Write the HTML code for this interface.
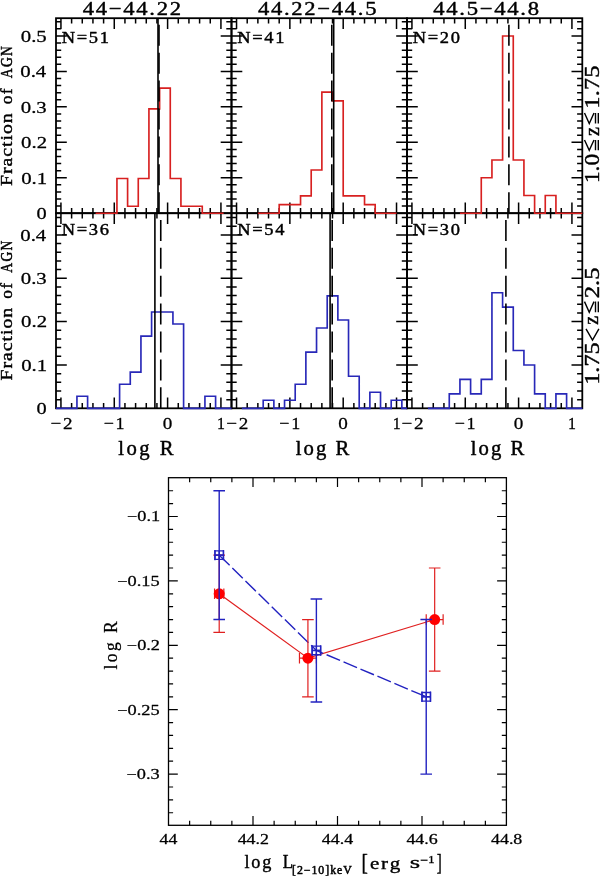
<!DOCTYPE html>
<html><head><meta charset="utf-8"><style>
html,body{margin:0;padding:0;background:#fff;}
svg{display:block;}
text{font-kerning:none;font-size:100px;-webkit-font-smoothing:antialiased;}
svg{will-change:transform;}
</style></head><body>
<svg width="600" height="877" viewBox="0 0 600 877">
<rect width="600" height="877" fill="#fff"/>
<g fill="none" stroke-linecap="butt">
<rect x="56.00" y="18.20" width="175.50" height="195.00" stroke="#000" stroke-width="1.80" fill="none"/>
<rect x="231.50" y="18.20" width="175.50" height="195.00" stroke="#000" stroke-width="1.80" fill="none"/>
<rect x="407.00" y="18.20" width="175.30" height="195.00" stroke="#000" stroke-width="1.80" fill="none"/>
<rect x="56.00" y="213.20" width="175.50" height="195.10" stroke="#000" stroke-width="1.80" fill="none"/>
<rect x="231.50" y="213.20" width="175.50" height="195.10" stroke="#000" stroke-width="1.80" fill="none"/>
<rect x="407.00" y="213.20" width="175.30" height="195.10" stroke="#000" stroke-width="1.80" fill="none"/>
<path d="M60.94 213.20V202.40M60.94 18.20V29.00M71.61 213.20V208.00M71.61 18.20V23.40M82.27 213.20V208.00M82.27 18.20V23.40M92.94 213.20V208.00M92.94 18.20V23.40M103.60 213.20V208.00M103.60 18.20V23.40M114.27 213.20V202.40M114.27 18.20V29.00M124.94 213.20V208.00M124.94 18.20V23.40M135.60 213.20V208.00M135.60 18.20V23.40M146.27 213.20V208.00M146.27 18.20V23.40M156.93 213.20V208.00M156.93 18.20V23.40M167.60 213.20V202.40M167.60 18.20V29.00M178.27 213.20V208.00M178.27 18.20V23.40M188.93 213.20V208.00M188.93 18.20V23.40M199.60 213.20V208.00M199.60 18.20V23.40M210.26 213.20V208.00M210.26 18.20V23.40M220.93 213.20V202.40M220.93 18.20V29.00M56.00 206.11H61.20M231.50 206.11H226.30M56.00 199.02H61.20M231.50 199.02H226.30M56.00 191.93H61.20M231.50 191.93H226.30M56.00 184.84H61.20M231.50 184.84H226.30M56.00 177.75H66.80M231.50 177.75H220.70M56.00 170.66H61.20M231.50 170.66H226.30M56.00 163.57H61.20M231.50 163.57H226.30M56.00 156.48H61.20M231.50 156.48H226.30M56.00 149.39H61.20M231.50 149.39H226.30M56.00 142.30H66.80M231.50 142.30H220.70M56.00 135.21H61.20M231.50 135.21H226.30M56.00 128.12H61.20M231.50 128.12H226.30M56.00 121.03H61.20M231.50 121.03H226.30M56.00 113.94H61.20M231.50 113.94H226.30M56.00 106.85H66.80M231.50 106.85H220.70M56.00 99.76H61.20M231.50 99.76H226.30M56.00 92.67H61.20M231.50 92.67H226.30M56.00 85.58H61.20M231.50 85.58H226.30M56.00 78.49H61.20M231.50 78.49H226.30M56.00 71.40H66.80M231.50 71.40H220.70M56.00 64.31H61.20M231.50 64.31H226.30M56.00 57.22H61.20M231.50 57.22H226.30M56.00 50.13H61.20M231.50 50.13H226.30M56.00 43.04H61.20M231.50 43.04H226.30M56.00 35.95H66.80M231.50 35.95H220.70M56.00 28.86H61.20M231.50 28.86H226.30M56.00 21.77H61.20M231.50 21.77H226.30" stroke="#000" stroke-width="1.50" fill="none"/>
<path d="M236.54 213.20V202.40M236.54 18.20V29.00M247.21 213.20V208.00M247.21 18.20V23.40M257.87 213.20V208.00M257.87 18.20V23.40M268.54 213.20V208.00M268.54 18.20V23.40M279.20 213.20V208.00M279.20 18.20V23.40M289.87 213.20V202.40M289.87 18.20V29.00M300.54 213.20V208.00M300.54 18.20V23.40M311.20 213.20V208.00M311.20 18.20V23.40M321.87 213.20V208.00M321.87 18.20V23.40M332.53 213.20V208.00M332.53 18.20V23.40M343.20 213.20V202.40M343.20 18.20V29.00M353.87 213.20V208.00M353.87 18.20V23.40M364.53 213.20V208.00M364.53 18.20V23.40M375.20 213.20V208.00M375.20 18.20V23.40M385.86 213.20V208.00M385.86 18.20V23.40M396.53 213.20V202.40M396.53 18.20V29.00M231.50 206.11H236.70M407.00 206.11H401.80M231.50 199.02H236.70M407.00 199.02H401.80M231.50 191.93H236.70M407.00 191.93H401.80M231.50 184.84H236.70M407.00 184.84H401.80M231.50 177.75H242.30M407.00 177.75H396.20M231.50 170.66H236.70M407.00 170.66H401.80M231.50 163.57H236.70M407.00 163.57H401.80M231.50 156.48H236.70M407.00 156.48H401.80M231.50 149.39H236.70M407.00 149.39H401.80M231.50 142.30H242.30M407.00 142.30H396.20M231.50 135.21H236.70M407.00 135.21H401.80M231.50 128.12H236.70M407.00 128.12H401.80M231.50 121.03H236.70M407.00 121.03H401.80M231.50 113.94H236.70M407.00 113.94H401.80M231.50 106.85H242.30M407.00 106.85H396.20M231.50 99.76H236.70M407.00 99.76H401.80M231.50 92.67H236.70M407.00 92.67H401.80M231.50 85.58H236.70M407.00 85.58H401.80M231.50 78.49H236.70M407.00 78.49H401.80M231.50 71.40H242.30M407.00 71.40H396.20M231.50 64.31H236.70M407.00 64.31H401.80M231.50 57.22H236.70M407.00 57.22H401.80M231.50 50.13H236.70M407.00 50.13H401.80M231.50 43.04H236.70M407.00 43.04H401.80M231.50 35.95H242.30M407.00 35.95H396.20M231.50 28.86H236.70M407.00 28.86H401.80M231.50 21.77H236.70M407.00 21.77H401.80" stroke="#000" stroke-width="1.50" fill="none"/>
<path d="M411.94 213.20V202.40M411.94 18.20V29.00M422.61 213.20V208.00M422.61 18.20V23.40M433.27 213.20V208.00M433.27 18.20V23.40M443.94 213.20V208.00M443.94 18.20V23.40M454.60 213.20V208.00M454.60 18.20V23.40M465.27 213.20V202.40M465.27 18.20V29.00M475.94 213.20V208.00M475.94 18.20V23.40M486.60 213.20V208.00M486.60 18.20V23.40M497.27 213.20V208.00M497.27 18.20V23.40M507.93 213.20V208.00M507.93 18.20V23.40M518.60 213.20V202.40M518.60 18.20V29.00M529.27 213.20V208.00M529.27 18.20V23.40M539.93 213.20V208.00M539.93 18.20V23.40M550.60 213.20V208.00M550.60 18.20V23.40M561.26 213.20V208.00M561.26 18.20V23.40M571.93 213.20V202.40M571.93 18.20V29.00M407.00 206.11H412.20M582.30 206.11H577.10M407.00 199.02H412.20M582.30 199.02H577.10M407.00 191.93H412.20M582.30 191.93H577.10M407.00 184.84H412.20M582.30 184.84H577.10M407.00 177.75H417.80M582.30 177.75H571.50M407.00 170.66H412.20M582.30 170.66H577.10M407.00 163.57H412.20M582.30 163.57H577.10M407.00 156.48H412.20M582.30 156.48H577.10M407.00 149.39H412.20M582.30 149.39H577.10M407.00 142.30H417.80M582.30 142.30H571.50M407.00 135.21H412.20M582.30 135.21H577.10M407.00 128.12H412.20M582.30 128.12H577.10M407.00 121.03H412.20M582.30 121.03H577.10M407.00 113.94H412.20M582.30 113.94H577.10M407.00 106.85H417.80M582.30 106.85H571.50M407.00 99.76H412.20M582.30 99.76H577.10M407.00 92.67H412.20M582.30 92.67H577.10M407.00 85.58H412.20M582.30 85.58H577.10M407.00 78.49H412.20M582.30 78.49H577.10M407.00 71.40H417.80M582.30 71.40H571.50M407.00 64.31H412.20M582.30 64.31H577.10M407.00 57.22H412.20M582.30 57.22H577.10M407.00 50.13H412.20M582.30 50.13H577.10M407.00 43.04H412.20M582.30 43.04H577.10M407.00 35.95H417.80M582.30 35.95H571.50M407.00 28.86H412.20M582.30 28.86H577.10M407.00 21.77H412.20M582.30 21.77H577.10" stroke="#000" stroke-width="1.50" fill="none"/>
<path d="M60.94 408.30V397.50M60.94 213.20V224.00M71.61 408.30V403.10M71.61 213.20V218.40M82.27 408.30V403.10M82.27 213.20V218.40M92.94 408.30V403.10M92.94 213.20V218.40M103.60 408.30V403.10M103.60 213.20V218.40M114.27 408.30V397.50M114.27 213.20V224.00M124.94 408.30V403.10M124.94 213.20V218.40M135.60 408.30V403.10M135.60 213.20V218.40M146.27 408.30V403.10M146.27 213.20V218.40M156.93 408.30V403.10M156.93 213.20V218.40M167.60 408.30V397.50M167.60 213.20V224.00M178.27 408.30V403.10M178.27 213.20V218.40M188.93 408.30V403.10M188.93 213.20V218.40M199.60 408.30V403.10M199.60 213.20V218.40M210.26 408.30V403.10M210.26 213.20V218.40M220.93 408.30V397.50M220.93 213.20V224.00M56.00 399.63H61.20M231.50 399.63H226.30M56.00 390.96H61.20M231.50 390.96H226.30M56.00 382.30H61.20M231.50 382.30H226.30M56.00 373.63H61.20M231.50 373.63H226.30M56.00 364.96H66.80M231.50 364.96H220.70M56.00 356.29H61.20M231.50 356.29H226.30M56.00 347.62H61.20M231.50 347.62H226.30M56.00 338.96H61.20M231.50 338.96H226.30M56.00 330.29H61.20M231.50 330.29H226.30M56.00 321.62H66.80M231.50 321.62H220.70M56.00 312.95H61.20M231.50 312.95H226.30M56.00 304.28H61.20M231.50 304.28H226.30M56.00 295.62H61.20M231.50 295.62H226.30M56.00 286.95H61.20M231.50 286.95H226.30M56.00 278.28H66.80M231.50 278.28H220.70M56.00 269.61H61.20M231.50 269.61H226.30M56.00 260.94H61.20M231.50 260.94H226.30M56.00 252.28H61.20M231.50 252.28H226.30M56.00 243.61H61.20M231.50 243.61H226.30M56.00 234.94H66.80M231.50 234.94H220.70M56.00 226.27H61.20M231.50 226.27H226.30M56.00 217.60H61.20M231.50 217.60H226.30" stroke="#000" stroke-width="1.50" fill="none"/>
<path d="M236.54 408.30V397.50M236.54 213.20V224.00M247.21 408.30V403.10M247.21 213.20V218.40M257.87 408.30V403.10M257.87 213.20V218.40M268.54 408.30V403.10M268.54 213.20V218.40M279.20 408.30V403.10M279.20 213.20V218.40M289.87 408.30V397.50M289.87 213.20V224.00M300.54 408.30V403.10M300.54 213.20V218.40M311.20 408.30V403.10M311.20 213.20V218.40M321.87 408.30V403.10M321.87 213.20V218.40M332.53 408.30V403.10M332.53 213.20V218.40M343.20 408.30V397.50M343.20 213.20V224.00M353.87 408.30V403.10M353.87 213.20V218.40M364.53 408.30V403.10M364.53 213.20V218.40M375.20 408.30V403.10M375.20 213.20V218.40M385.86 408.30V403.10M385.86 213.20V218.40M396.53 408.30V397.50M396.53 213.20V224.00M231.50 399.63H236.70M407.00 399.63H401.80M231.50 390.96H236.70M407.00 390.96H401.80M231.50 382.30H236.70M407.00 382.30H401.80M231.50 373.63H236.70M407.00 373.63H401.80M231.50 364.96H242.30M407.00 364.96H396.20M231.50 356.29H236.70M407.00 356.29H401.80M231.50 347.62H236.70M407.00 347.62H401.80M231.50 338.96H236.70M407.00 338.96H401.80M231.50 330.29H236.70M407.00 330.29H401.80M231.50 321.62H242.30M407.00 321.62H396.20M231.50 312.95H236.70M407.00 312.95H401.80M231.50 304.28H236.70M407.00 304.28H401.80M231.50 295.62H236.70M407.00 295.62H401.80M231.50 286.95H236.70M407.00 286.95H401.80M231.50 278.28H242.30M407.00 278.28H396.20M231.50 269.61H236.70M407.00 269.61H401.80M231.50 260.94H236.70M407.00 260.94H401.80M231.50 252.28H236.70M407.00 252.28H401.80M231.50 243.61H236.70M407.00 243.61H401.80M231.50 234.94H242.30M407.00 234.94H396.20M231.50 226.27H236.70M407.00 226.27H401.80M231.50 217.60H236.70M407.00 217.60H401.80" stroke="#000" stroke-width="1.50" fill="none"/>
<path d="M411.94 408.30V397.50M411.94 213.20V224.00M422.61 408.30V403.10M422.61 213.20V218.40M433.27 408.30V403.10M433.27 213.20V218.40M443.94 408.30V403.10M443.94 213.20V218.40M454.60 408.30V403.10M454.60 213.20V218.40M465.27 408.30V397.50M465.27 213.20V224.00M475.94 408.30V403.10M475.94 213.20V218.40M486.60 408.30V403.10M486.60 213.20V218.40M497.27 408.30V403.10M497.27 213.20V218.40M507.93 408.30V403.10M507.93 213.20V218.40M518.60 408.30V397.50M518.60 213.20V224.00M529.27 408.30V403.10M529.27 213.20V218.40M539.93 408.30V403.10M539.93 213.20V218.40M550.60 408.30V403.10M550.60 213.20V218.40M561.26 408.30V403.10M561.26 213.20V218.40M571.93 408.30V397.50M571.93 213.20V224.00M407.00 399.63H412.20M582.30 399.63H577.10M407.00 390.96H412.20M582.30 390.96H577.10M407.00 382.30H412.20M582.30 382.30H577.10M407.00 373.63H412.20M582.30 373.63H577.10M407.00 364.96H417.80M582.30 364.96H571.50M407.00 356.29H412.20M582.30 356.29H577.10M407.00 347.62H412.20M582.30 347.62H577.10M407.00 338.96H412.20M582.30 338.96H577.10M407.00 330.29H412.20M582.30 330.29H577.10M407.00 321.62H417.80M582.30 321.62H571.50M407.00 312.95H412.20M582.30 312.95H577.10M407.00 304.28H412.20M582.30 304.28H577.10M407.00 295.62H412.20M582.30 295.62H577.10M407.00 286.95H412.20M582.30 286.95H577.10M407.00 278.28H417.80M582.30 278.28H571.50M407.00 269.61H412.20M582.30 269.61H577.10M407.00 260.94H412.20M582.30 260.94H577.10M407.00 252.28H412.20M582.30 252.28H577.10M407.00 243.61H412.20M582.30 243.61H577.10M407.00 234.94H417.80M582.30 234.94H571.50M407.00 226.27H412.20M582.30 226.27H577.10M407.00 217.60H412.20M582.30 217.60H577.10" stroke="#000" stroke-width="1.50" fill="none"/>
<path d="M95.60 213.20 L95.60 213.20 L106.27 213.20 L106.27 213.20 L116.94 213.20 L116.94 178.45 L127.60 178.45 L127.60 206.25 L138.27 206.25 L138.27 178.45 L148.93 178.45 L148.93 108.94 L159.60 108.94 L159.60 88.08 L170.27 88.08 L170.27 178.45 L180.93 178.45 L180.93 206.25 L191.60 206.25 L191.60 206.25 L202.26 206.25 L202.26 213.20 L212.93 213.20 L212.93 213.20 L223.60 213.20 L223.60 213.20" stroke="#d82020" stroke-width="1.65" fill="none" stroke-linejoin="miter"/>
<line x1="158.00" y1="213.20" x2="158.00" y2="18.20" stroke="#000" stroke-width="1.60"/>
<line x1="159.00" y1="213.20" x2="159.00" y2="18.20" stroke="#000" stroke-width="1.60" stroke-dasharray="21 6.9"/>
<path d="M257.87 213.20 L257.87 213.20 L268.54 213.20 L268.54 213.20 L279.20 213.20 L279.20 204.55 L289.87 204.55 L289.87 204.55 L300.54 204.55 L300.54 195.91 L311.20 195.91 L311.20 169.97 L321.87 169.97 L321.87 92.15 L332.53 92.15 L332.53 100.80 L343.20 100.80 L343.20 195.91 L353.87 195.91 L353.87 195.91 L364.53 195.91 L364.53 204.55 L375.20 204.55 L375.20 213.20 L385.86 213.20 L385.86 213.20 L396.53 213.20 L396.53 213.20" stroke="#d82020" stroke-width="1.65" fill="none" stroke-linejoin="miter"/>
<line x1="333.70" y1="213.20" x2="333.70" y2="18.20" stroke="#000" stroke-width="1.60"/>
<line x1="331.80" y1="213.20" x2="331.80" y2="18.20" stroke="#000" stroke-width="1.60" stroke-dasharray="21 6.9"/>
<path d="M459.94 213.20 L459.94 213.20 L470.60 213.20 L470.60 213.20 L481.27 213.20 L481.27 177.75 L491.94 177.75 L491.94 160.02 L502.60 160.02 L502.60 35.95 L513.27 35.95 L513.27 160.02 L523.93 160.02 L523.93 195.47 L534.60 195.47 L534.60 213.20 L545.26 213.20 L545.26 195.47 L555.93 195.47 L555.93 213.20 L566.60 213.20 L566.60 213.20 L577.26 213.20 L577.26 213.20 L582.30 213.20 L582.30 213.20 L582.30 213.20" stroke="#d82020" stroke-width="1.65" fill="none" stroke-linejoin="miter"/>
<line x1="508.90" y1="213.20" x2="508.90" y2="18.20" stroke="#000" stroke-width="1.60" stroke-dasharray="21 6.9"/>
<path d="M56.00 408.30 L76.94 408.30 L76.94 396.26 L87.60 396.26 L87.60 408.30 L98.27 408.30 L98.27 408.30 L108.94 408.30 L108.94 408.30 L119.60 408.30 L119.60 384.22 L130.27 384.22 L130.27 372.18 L140.94 372.18 L140.94 336.07 L151.60 336.07 L151.60 311.99 L162.27 311.99 L162.27 311.99 L172.93 311.99 L172.93 324.03 L183.60 324.03 L183.60 408.30 L194.27 408.30 L194.27 408.30 L204.93 408.30 L204.93 396.26 L215.60 396.26 L215.60 408.30 L231.50 408.30" stroke="#2828b8" stroke-width="1.65" fill="none" stroke-linejoin="miter"/>
<line x1="154.90" y1="408.30" x2="154.90" y2="213.20" stroke="#000" stroke-width="1.60"/>
<line x1="160.75" y1="408.30" x2="160.75" y2="213.20" stroke="#000" stroke-width="1.60" stroke-dasharray="21 6.9"/>
<path d="M241.87 408.30 L241.87 408.30 L252.54 408.30 L252.54 408.30 L263.20 408.30 L263.20 400.27 L273.87 400.27 L273.87 408.30 L284.54 408.30 L284.54 400.27 L295.20 400.27 L295.20 384.22 L305.87 384.22 L305.87 352.12 L316.54 352.12 L316.54 328.04 L327.20 328.04 L327.20 295.94 L337.87 295.94 L337.87 320.01 L348.53 320.01 L348.53 376.20 L359.20 376.20 L359.20 408.30 L369.87 408.30 L369.87 392.25 L380.53 392.25 L380.53 408.30 L391.20 408.30 L391.20 400.27 L401.86 400.27 L401.86 408.30 L407.00 408.30" stroke="#2828b8" stroke-width="1.65" fill="none" stroke-linejoin="miter"/>
<line x1="330.10" y1="408.30" x2="330.10" y2="213.20" stroke="#000" stroke-width="1.60"/>
<line x1="332.20" y1="408.30" x2="332.20" y2="213.20" stroke="#000" stroke-width="1.60" stroke-dasharray="21 6.9"/>
<path d="M427.94 408.30 L427.94 408.30 L438.61 408.30 L438.61 408.30 L449.27 408.30 L449.27 393.85 L459.94 393.85 L459.94 379.41 L470.60 379.41 L470.60 393.85 L481.27 393.85 L481.27 379.41 L491.94 379.41 L491.94 292.73 L502.60 292.73 L502.60 307.17 L513.27 307.17 L513.27 350.51 L523.93 350.51 L523.93 364.96 L534.60 364.96 L534.60 393.85 L545.26 393.85 L545.26 408.30 L555.93 408.30 L555.93 393.85 L566.60 393.85 L566.60 408.30 L582.30 408.30" stroke="#2828b8" stroke-width="1.65" fill="none" stroke-linejoin="miter"/>
<line x1="505.90" y1="408.30" x2="505.90" y2="213.20" stroke="#000" stroke-width="1.60" stroke-dasharray="21 6.9"/>
</g>
<text transform="translate(61.69 43.01) scale(0.18462 0.17390)" font-family='"Liberation Serif", serif' font-weight="normal" fill="#000" stroke="#000" stroke-width="2.51" stroke-linejoin="round" letter-spacing="9.00">N=51</text>
<text transform="translate(237.19 43.17) scale(0.18462 0.17647)" font-family='"Liberation Serif", serif' font-weight="normal" fill="#000" stroke="#000" stroke-width="2.49" stroke-linejoin="round" letter-spacing="9.00">N=41</text>
<text transform="translate(412.69 43.01) scale(0.18463 0.17264)" font-family='"Liberation Serif", serif' font-weight="normal" fill="#000" stroke="#000" stroke-width="2.52" stroke-linejoin="round" letter-spacing="9.00">N=20</text>
<text transform="translate(61.69 235.21) scale(0.18464 0.17340)" font-family='"Liberation Serif", serif' font-weight="normal" fill="#000" stroke="#000" stroke-width="2.51" stroke-linejoin="round" letter-spacing="9.00">N=36</text>
<text transform="translate(237.19 235.20) scale(0.18465 0.17441)" font-family='"Liberation Serif", serif' font-weight="normal" fill="#000" stroke="#000" stroke-width="2.51" stroke-linejoin="round" letter-spacing="9.00">N=54</text>
<text transform="translate(412.69 235.21) scale(0.18463 0.17264)" font-family='"Liberation Serif", serif' font-weight="normal" fill="#000" stroke="#000" stroke-width="2.52" stroke-linejoin="round" letter-spacing="9.00">N=30</text>
<text transform="translate(82.78 14.60) scale(0.22642 0.19445)" font-family='"Liberation Serif", serif' font-weight="normal" fill="#000" stroke="#000" stroke-width="2.14" stroke-linejoin="round" letter-spacing="7.50">44−44.22</text>
<text transform="translate(257.98 14.60) scale(0.22634 0.19445)" font-family='"Liberation Serif", serif' font-weight="normal" fill="#000" stroke="#000" stroke-width="2.14" stroke-linejoin="round" letter-spacing="7.50">44.22−44.5</text>
<text transform="translate(433.28 14.60) scale(0.22675 0.19361)" font-family='"Liberation Serif", serif' font-weight="normal" fill="#000" stroke="#000" stroke-width="2.14" stroke-linejoin="round" letter-spacing="7.50">44.5−44.8</text>
<text transform="translate(36.55 219.13) scale(0.20352 0.17190)" font-family='"Liberation Serif", serif' font-weight="normal" fill="#000" stroke="#000" stroke-width="1.60" stroke-linejoin="round">0</text>
<text transform="translate(21.20 183.61) scale(0.20799 0.17079)" font-family='"Liberation Serif", serif' font-weight="normal" fill="#000" stroke="#000" stroke-width="1.58" stroke-linejoin="round">0.1</text>
<text transform="translate(21.10 148.16) scale(0.20800 0.17079)" font-family='"Liberation Serif", serif' font-weight="normal" fill="#000" stroke="#000" stroke-width="1.58" stroke-linejoin="round">0.2</text>
<text transform="translate(20.76 112.71) scale(0.20804 0.17079)" font-family='"Liberation Serif", serif' font-weight="normal" fill="#000" stroke="#000" stroke-width="1.58" stroke-linejoin="round">0.3</text>
<text transform="translate(20.26 77.26) scale(0.20809 0.17079)" font-family='"Liberation Serif", serif' font-weight="normal" fill="#000" stroke="#000" stroke-width="1.58" stroke-linejoin="round">0.4</text>
<text transform="translate(20.76 41.81) scale(0.20804 0.17079)" font-family='"Liberation Serif", serif' font-weight="normal" fill="#000" stroke="#000" stroke-width="1.58" stroke-linejoin="round">0.5</text>
<text transform="translate(36.55 414.23) scale(0.20352 0.17190)" font-family='"Liberation Serif", serif' font-weight="normal" fill="#000" stroke="#000" stroke-width="1.60" stroke-linejoin="round">0</text>
<text transform="translate(21.20 370.82) scale(0.20799 0.17079)" font-family='"Liberation Serif", serif' font-weight="normal" fill="#000" stroke="#000" stroke-width="1.58" stroke-linejoin="round">0.1</text>
<text transform="translate(21.10 327.48) scale(0.20800 0.17079)" font-family='"Liberation Serif", serif' font-weight="normal" fill="#000" stroke="#000" stroke-width="1.58" stroke-linejoin="round">0.2</text>
<text transform="translate(20.76 284.14) scale(0.20804 0.17079)" font-family='"Liberation Serif", serif' font-weight="normal" fill="#000" stroke="#000" stroke-width="1.58" stroke-linejoin="round">0.3</text>
<text transform="translate(20.26 240.80) scale(0.20809 0.17079)" font-family='"Liberation Serif", serif' font-weight="normal" fill="#000" stroke="#000" stroke-width="1.58" stroke-linejoin="round">0.4</text>
<text transform="translate(50.54 428.95) scale(0.19161 0.17520)" font-family='"Liberation Serif", serif' font-weight="normal" fill="#000" stroke="#000" stroke-width="1.64" stroke-linejoin="round" letter-spacing="9.00">−2</text>
<text transform="translate(103.72 428.95) scale(0.18102 0.17572)" font-family='"Liberation Serif", serif' font-weight="normal" fill="#000" stroke="#000" stroke-width="1.68" stroke-linejoin="round" letter-spacing="9.00">−1</text>
<text transform="translate(162.72 428.78) scale(0.19112 0.17190)" font-family='"Liberation Serif", serif' font-weight="normal" fill="#000" stroke="#000" stroke-width="1.65" stroke-linejoin="round">0</text>
<text transform="translate(217.08 428.95) scale(0.15907 0.17572)" font-family='"Liberation Serif", serif' font-weight="normal" fill="#000" stroke="#000" stroke-width="1.79" stroke-linejoin="round">1</text>
<text transform="translate(226.14 428.95) scale(0.19161 0.17520)" font-family='"Liberation Serif", serif' font-weight="normal" fill="#000" stroke="#000" stroke-width="1.64" stroke-linejoin="round" letter-spacing="9.00">−2</text>
<text transform="translate(279.32 428.95) scale(0.18102 0.17572)" font-family='"Liberation Serif", serif' font-weight="normal" fill="#000" stroke="#000" stroke-width="1.68" stroke-linejoin="round" letter-spacing="9.00">−1</text>
<text transform="translate(338.32 428.78) scale(0.19112 0.17190)" font-family='"Liberation Serif", serif' font-weight="normal" fill="#000" stroke="#000" stroke-width="1.65" stroke-linejoin="round">0</text>
<text transform="translate(392.68 428.95) scale(0.15907 0.17572)" font-family='"Liberation Serif", serif' font-weight="normal" fill="#000" stroke="#000" stroke-width="1.79" stroke-linejoin="round">1</text>
<text transform="translate(401.54 428.95) scale(0.19161 0.17520)" font-family='"Liberation Serif", serif' font-weight="normal" fill="#000" stroke="#000" stroke-width="1.64" stroke-linejoin="round" letter-spacing="9.00">−2</text>
<text transform="translate(454.72 428.95) scale(0.18102 0.17572)" font-family='"Liberation Serif", serif' font-weight="normal" fill="#000" stroke="#000" stroke-width="1.68" stroke-linejoin="round" letter-spacing="9.00">−1</text>
<text transform="translate(513.72 428.78) scale(0.19112 0.17190)" font-family='"Liberation Serif", serif' font-weight="normal" fill="#000" stroke="#000" stroke-width="1.65" stroke-linejoin="round">0</text>
<text transform="translate(568.08 428.95) scale(0.15907 0.17572)" font-family='"Liberation Serif", serif' font-weight="normal" fill="#000" stroke="#000" stroke-width="1.79" stroke-linejoin="round">1</text>
<text transform="translate(118.21 454.67) scale(0.20672 0.20392)" font-family='"Liberation Serif", serif' font-weight="normal" fill="#000" stroke="#000" stroke-width="2.19" stroke-linejoin="round" letter-spacing="12.00">log R</text>
<text transform="translate(295.81 454.67) scale(0.20654 0.20392)" font-family='"Liberation Serif", serif' font-weight="normal" fill="#000" stroke="#000" stroke-width="2.19" stroke-linejoin="round" letter-spacing="10.00">log R</text>
<text transform="translate(470.81 454.67) scale(0.20654 0.20392)" font-family='"Liberation Serif", serif' font-weight="normal" fill="#000" stroke="#000" stroke-width="2.19" stroke-linejoin="round" letter-spacing="10.00">log R</text>
<text transform="translate(11.98 186.04) rotate(-90) scale(0.19774 0.17130)" font-family='"Liberation Serif", serif' font-weight="normal" fill="#000" stroke="#000" stroke-width="2.44" stroke-linejoin="round" letter-spacing="5.00">Fraction</text>
<text transform="translate(11.98 104.33) rotate(-90) scale(0.17202 0.17170)" font-family='"Liberation Serif", serif' font-weight="normal" fill="#000" stroke="#000" stroke-width="2.62" stroke-linejoin="round" letter-spacing="8.00">of</text>
<text transform="translate(11.82 78.21) rotate(-90) scale(0.13562 0.16000)" font-family='"Liberation Serif", serif' font-weight="normal" fill="#000" stroke="#000" stroke-width="3.04" stroke-linejoin="round" letter-spacing="10.00">AGN</text>
<text transform="translate(11.98 380.54) rotate(-90) scale(0.19774 0.17130)" font-family='"Liberation Serif", serif' font-weight="normal" fill="#000" stroke="#000" stroke-width="2.44" stroke-linejoin="round" letter-spacing="5.00">Fraction</text>
<text transform="translate(11.98 298.83) rotate(-90) scale(0.17202 0.17170)" font-family='"Liberation Serif", serif' font-weight="normal" fill="#000" stroke="#000" stroke-width="2.62" stroke-linejoin="round" letter-spacing="8.00">of</text>
<text transform="translate(11.82 272.71) rotate(-90) scale(0.13562 0.16000)" font-family='"Liberation Serif", serif' font-weight="normal" fill="#000" stroke="#000" stroke-width="3.04" stroke-linejoin="round" letter-spacing="10.00">AGN</text>
<text transform="translate(598.67 183.02) rotate(-90) scale(0.23265 0.21570)" font-family='"Liberation Serif", serif' font-weight="normal" fill="#000" stroke="#000" stroke-width="2.01" stroke-linejoin="round">1.0</text>
<path d="M584.50 140.00L589.25 150.30L594.00 140.00M595.50 140.00V150.30M598.30 140.00V150.30" stroke="#000" stroke-width="1.40" fill="none" stroke-linejoin="miter"/>
<text transform="translate(598.57 136.12) rotate(-90) scale(0.20172 0.20153)" font-family='"Liberation Serif", serif' font-weight="normal" fill="#000" stroke="#000" stroke-width="2.23" stroke-linejoin="round">z</text>
<path d="M584.50 113.00L589.25 123.50L594.00 113.00M595.50 113.00V123.50M598.30 113.00V123.50" stroke="#000" stroke-width="1.40" fill="none" stroke-linejoin="miter"/>
<text transform="translate(598.67 108.64) rotate(-90) scale(0.24676 0.21726)" font-family='"Liberation Serif", serif' font-weight="normal" fill="#000" stroke="#000" stroke-width="1.94" stroke-linejoin="round">1.75</text>
<text transform="translate(598.67 384.81) rotate(-90) scale(0.24306 0.21726)" font-family='"Liberation Serif", serif' font-weight="normal" fill="#000" stroke="#000" stroke-width="1.96" stroke-linejoin="round">1.75</text>
<path d="M586.0 328.9L592.5 340.2L598.9 328.9" stroke="#000" stroke-width="1.40" fill="none" stroke-linejoin="miter"/>
<text transform="translate(598.38 324.81) rotate(-90) scale(0.19915 0.20807)" font-family='"Liberation Serif", serif' font-weight="normal" fill="#000" stroke="#000" stroke-width="2.21" stroke-linejoin="round">z</text>
<path d="M584.50 301.60L589.25 312.30L594.00 301.60M595.50 301.60V312.30M598.30 301.60V312.30" stroke="#000" stroke-width="1.40" fill="none" stroke-linejoin="miter"/>
<text transform="translate(598.67 298.36) rotate(-90) scale(0.24722 0.21663)" font-family='"Liberation Serif", serif' font-weight="normal" fill="#000" stroke="#000" stroke-width="1.94" stroke-linejoin="round">2.5</text>
<path d="M189.62 825.30V820.70M189.62 477.70V482.30M210.75 825.30V820.70M210.75 477.70V482.30M231.87 825.30V820.70M231.87 477.70V482.30M253.00 825.30V816.00M253.00 477.70V487.00M274.12 825.30V820.70M274.12 477.70V482.30M295.25 825.30V820.70M295.25 477.70V482.30M316.38 825.30V820.70M316.38 477.70V482.30M337.50 825.30V816.00M337.50 477.70V487.00M358.63 825.30V820.70M358.63 477.70V482.30M379.75 825.30V820.70M379.75 477.70V482.30M400.87 825.30V820.70M400.87 477.70V482.30M422.00 825.30V816.00M422.00 477.70V487.00M443.12 825.30V820.70M443.12 477.70V482.30M464.25 825.30V820.70M464.25 477.70V482.30M485.38 825.30V820.70M485.38 477.70V482.30M168.50 812.74H173.10M506.40 812.74H501.80M168.50 799.86H173.10M506.40 799.86H501.80M168.50 786.98H173.10M506.40 786.98H501.80M168.50 774.10H177.80M506.40 774.10H497.10M168.50 761.22H173.10M506.40 761.22H501.80M168.50 748.34H173.10M506.40 748.34H501.80M168.50 735.46H173.10M506.40 735.46H501.80M168.50 722.58H173.10M506.40 722.58H501.80M168.50 709.70H177.80M506.40 709.70H497.10M168.50 696.82H173.10M506.40 696.82H501.80M168.50 683.94H173.10M506.40 683.94H501.80M168.50 671.06H173.10M506.40 671.06H501.80M168.50 658.18H173.10M506.40 658.18H501.80M168.50 645.30H177.80M506.40 645.30H497.10M168.50 632.42H173.10M506.40 632.42H501.80M168.50 619.54H173.10M506.40 619.54H501.80M168.50 606.66H173.10M506.40 606.66H501.80M168.50 593.78H173.10M506.40 593.78H501.80M168.50 580.90H177.80M506.40 580.90H497.10M168.50 568.02H173.10M506.40 568.02H501.80M168.50 555.14H173.10M506.40 555.14H501.80M168.50 542.26H173.10M506.40 542.26H501.80M168.50 529.38H173.10M506.40 529.38H501.80M168.50 516.50H177.80M506.40 516.50H497.10M168.50 503.62H173.10M506.40 503.62H501.80M168.50 490.74H173.10M506.40 490.74H501.80" stroke="#000" stroke-width="1.20" fill="none"/>
<rect x="168.50" y="477.70" width="337.90" height="347.60" stroke="#000" stroke-width="1.30" fill="none"/>
<path d="M219.20 593.78 L307.92 658.18 L434.68 619.54" stroke="#e02020" stroke-width="1.20" fill="none"/>
<path d="M219.20 555.14 L316.38 650.45 L426.22 696.82" stroke="#2222c0" stroke-width="1.40" fill="none" stroke-dasharray="14.6 3.8"/>
<path d="M219.20 555.14V632.42M213.40 555.14H225.00M213.40 632.42H225.00M214.55 593.78H223.85M214.55 588.58V598.98M223.85 588.58V598.98" stroke="#e02020" stroke-width="1.20" fill="none"/>
<path d="M307.92 619.54V696.82M302.12 619.54H313.72M302.12 696.82H313.72M299.47 658.18H316.38M299.47 652.98V663.38M316.38 652.98V663.38" stroke="#e02020" stroke-width="1.20" fill="none"/>
<path d="M434.68 568.02V671.06M428.88 568.02H440.48M428.88 671.06H440.48M426.22 619.54H443.13M426.22 614.34V624.74M443.13 614.34V624.74" stroke="#e02020" stroke-width="1.20" fill="none"/>
<circle cx="219.20" cy="593.78" r="5.5" fill="#ff0000"/>
<circle cx="307.92" cy="658.18" r="5.5" fill="#ff0000"/>
<circle cx="434.68" cy="619.54" r="5.5" fill="#ff0000"/>
<path d="M219.20 490.74V619.54M213.40 490.74H225.00M213.40 619.54H225.00M214.97 555.14H223.42M214.97 549.94V560.34M223.42 549.94V560.34" stroke="#2222c0" stroke-width="1.40" fill="none"/>
<path d="M316.38 598.93V701.97M310.58 598.93H322.18M310.58 701.97H322.18M312.15 650.45H320.60M312.15 645.25V655.65M320.60 645.25V655.65" stroke="#2222c0" stroke-width="1.40" fill="none"/>
<path d="M426.22 619.54V774.10M420.42 619.54H432.02M420.42 774.10H432.02M422.00 696.82H430.45M422.00 691.62V702.02M430.45 691.62V702.02" stroke="#2222c0" stroke-width="1.40" fill="none"/>
<path d="M214.90 550.84h8.6v8.6h-8.6zM214.90 555.14H223.50M219.20 550.84V559.44" stroke="#2222c0" stroke-width="1.30" fill="none"/>
<path d="M312.08 646.15h8.6v8.6h-8.6zM312.08 650.45H320.68M316.38 646.15V654.75" stroke="#2222c0" stroke-width="1.30" fill="none"/>
<path d="M421.92 692.52h8.6v8.6h-8.6zM421.92 696.82H430.52M426.22 692.52V701.12" stroke="#2222c0" stroke-width="1.30" fill="none"/>
<text transform="translate(126.88 521.46) scale(0.18340 0.13693)" font-family='"Liberation Serif", serif' font-weight="normal" fill="#000" stroke="#000" stroke-width="1.87" stroke-linejoin="round">−0.1</text>
<text transform="translate(117.23 585.86) scale(0.18381 0.13693)" font-family='"Liberation Serif", serif' font-weight="normal" fill="#000" stroke="#000" stroke-width="1.87" stroke-linejoin="round">−0.15</text>
<text transform="translate(126.79 650.26) scale(0.18340 0.13693)" font-family='"Liberation Serif", serif' font-weight="normal" fill="#000" stroke="#000" stroke-width="1.87" stroke-linejoin="round">−0.2</text>
<text transform="translate(117.23 714.66) scale(0.18381 0.13693)" font-family='"Liberation Serif", serif' font-weight="normal" fill="#000" stroke="#000" stroke-width="1.87" stroke-linejoin="round">−0.25</text>
<text transform="translate(126.49 779.06) scale(0.18342 0.13693)" font-family='"Liberation Serif", serif' font-weight="normal" fill="#000" stroke="#000" stroke-width="1.87" stroke-linejoin="round">−0.3</text>
<text transform="translate(159.58 844.15) scale(0.17775 0.14433)" font-family='"Liberation Serif", serif' font-weight="normal" fill="#000" stroke="#000" stroke-width="1.86" stroke-linejoin="round">44</text>
<text transform="translate(237.65 843.95) scale(0.17907 0.14048)" font-family='"Liberation Serif", serif' font-weight="normal" fill="#000" stroke="#000" stroke-width="1.88" stroke-linejoin="round">44.2</text>
<text transform="translate(321.79 843.95) scale(0.17911 0.14129)" font-family='"Liberation Serif", serif' font-weight="normal" fill="#000" stroke="#000" stroke-width="1.87" stroke-linejoin="round">44.4</text>
<text transform="translate(406.42 843.95) scale(0.17910 0.14048)" font-family='"Liberation Serif", serif' font-weight="normal" fill="#000" stroke="#000" stroke-width="1.88" stroke-linejoin="round">44.6</text>
<text transform="translate(491.00 843.95) scale(0.17909 0.13987)" font-family='"Liberation Serif", serif' font-weight="normal" fill="#000" stroke="#000" stroke-width="1.88" stroke-linejoin="round">44.8</text>
<text transform="translate(117.25 669.53) rotate(-90) scale(0.17506 0.18633)" font-family='"Liberation Serif", serif' font-weight="normal" fill="#000" stroke="#000" stroke-width="1.38" stroke-linejoin="round" letter-spacing="14.00">log R</text>
<text transform="translate(244.44 868.14) scale(0.18210 0.18358)" font-family='"Liberation Serif", serif' font-weight="normal" fill="#000" stroke="#000" stroke-width="2.19" stroke-linejoin="round" letter-spacing="10.00">log</text>
<text transform="translate(282.81 868.40) scale(0.16859 0.18479)" font-family='"Liberation Serif", serif' font-weight="normal" fill="#000" stroke="#000" stroke-width="2.26" stroke-linejoin="round">L</text>
<text transform="translate(292.07 874.17) scale(0.11877 0.11841)" font-family='"Liberation Serif", serif' font-weight="normal" fill="#000" stroke="#000" stroke-width="4.22" stroke-linejoin="round" letter-spacing="8.00">[2−10]keV</text>
<text transform="translate(361.56 869.81) scale(0.19088 0.22534)" font-family='"Liberation Serif", serif' font-weight="normal" fill="#000" stroke="#000" stroke-width="1.68" stroke-linejoin="round">[</text>
<text transform="translate(369.98 868.78) scale(0.21034 0.17695)" font-family='"Liberation Serif", serif' font-weight="normal" fill="#000" stroke="#000" stroke-width="2.07" stroke-linejoin="round" letter-spacing="8.00">erg</text>
<text transform="translate(409.71 868.23) scale(0.26602 0.17257)" font-family='"Liberation Serif", serif' font-weight="normal" fill="#000" stroke="#000" stroke-width="1.82" stroke-linejoin="round">s</text>
<text transform="translate(419.96 867.60) scale(0.14828 0.24094)" font-family='"Liberation Serif", serif' font-weight="normal" fill="#000">−</text>
<text transform="translate(427.98 862.95) scale(0.13350 0.10604)" font-family='"Liberation Serif", serif' font-weight="normal" fill="#000" stroke="#000" stroke-width="2.50" stroke-linejoin="round">1</text>
<text transform="translate(436.83 869.64) scale(0.15046 0.22292)" font-family='"Liberation Serif", serif' font-weight="normal" fill="#000" stroke="#000" stroke-width="1.87" stroke-linejoin="round">]</text>
</svg>
</body></html>
